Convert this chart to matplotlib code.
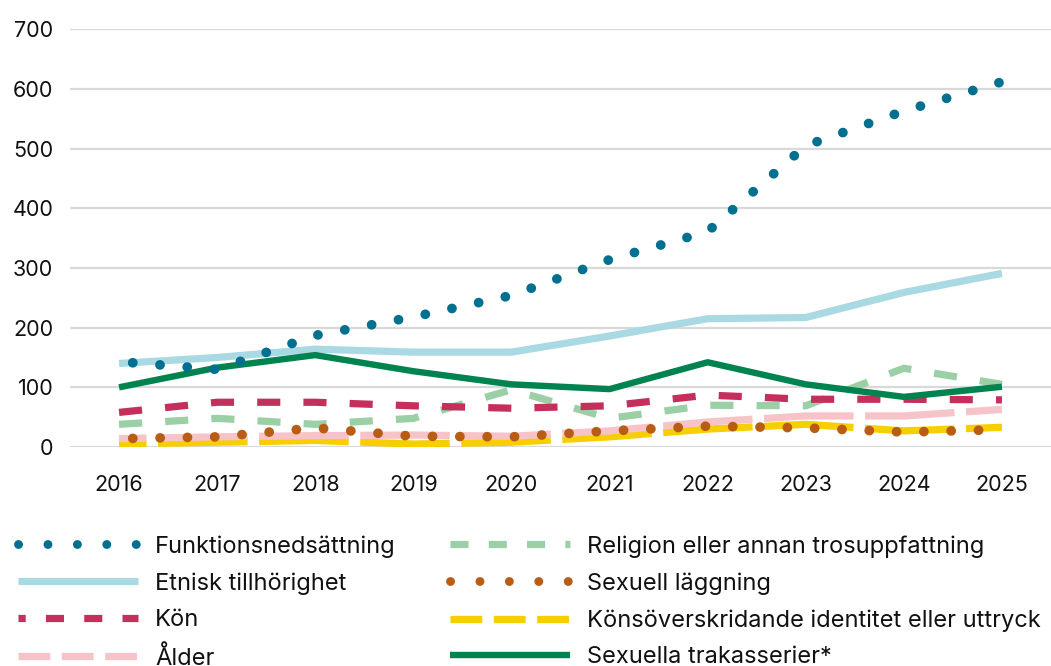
import matplotlib.pyplot as plt
from matplotlib.lines import Line2D

# Data
years = [2016, 2017, 2018, 2019, 2020, 2021, 2022, 2023, 2024, 2025]
funktion = [143, 130, 187, 218, 254, 314, 361, 505, 563, 612]
etnisk = [140, 150, 164, 159, 159, 186, 215, 217, 259, 291]
kon = [58, 75, 75, 69, 65, 69, 87, 80, 80, 79]
alder = [14, 17, 19, 20, 18, 27, 42, 52, 52, 63]
religion = [38, 48, 38, 48, 96, 48, 70, 69, 132, 105]
sexuell = [14, 17, 32, 18, 17, 27, 35, 32, 25, 29]
konsov = [5, 8, 11, 5, 8, 17, 30, 38, 27, 33]
trakasserier = [100, 133, 154, 127, 105, 97, 142, 105, 84, 101]

labels = ['Funktionsnedsättning', 'Etnisk tillhörighet', 'Kön', 'Ålder',
          'Religion eller annan trosuppfattning', 'Sexuell läggning',
          'Könsöverskridande identitet eller uttryck', 'Sexuella trakasserier*']

c_funk = '#006F90'
c_etn = '#A9D9E3'
c_kon = '#C42F5B'
c_ald = '#F6C3C8'
c_rel = '#9BCFA6'
c_sex = '#B95C14'
c_kons = '#F7CE00'
c_trak = '#00834F'

plt.rcParams['font.family'] = ['Inter', 'DejaVu Sans']

fig = plt.figure(figsize=(10.51, 6.66), dpi=100)
ax = fig.add_axes([70 / 1051, 1 - 447 / 666, 981 / 1051, (447 - 29.3) / 666])

# lines (drawing order matters for the overlaps)
ax.plot(years, etnisk, color=c_etn, lw=5.2, solid_capstyle='butt', zorder=3)
ax.plot(years, konsov, color=c_kons, lw=5.2, ls=(8.6, (12.4, 1.6)), dash_capstyle='butt', zorder=4)
ax.plot(years, alder, color=c_ald, lw=5.2, ls=(8.6, (12.4, 1.6)), dash_capstyle='butt', zorder=5)
ax.plot(years, religion, color=c_rel, lw=5.2, ls=(0, (3.2, 3.2)), dash_capstyle='butt', zorder=6)
ax.plot(years, kon, color=c_kon, lw=5.2, ls=(0, (3.2, 3.2)), dash_capstyle='butt', zorder=7)
ax.plot(years, trakasserier, color=c_trak, lw=4.6, solid_capstyle='butt', zorder=8)
ax.plot(years, funktion, color=c_funk, lw=7.0, ls=(1.4, (0.01, 2.8)), dash_capstyle='round', zorder=9)
ax.plot(years, sexuell, color=c_sex, lw=7.0, ls=(1.4, (0.01, 2.8)), dash_capstyle='round', zorder=10)

ax.set_xlim(2015.5, 2025.5)
ax.set_ylim(0, 700)
ax.set_xticks(years)
ax.set_yticks(range(0, 701, 100))
ax.grid(axis='y', color='#D9D9D9', lw=1.6)
ax.set_axisbelow(True)
for s in ax.spines.values():
    s.set_visible(False)
ax.tick_params(axis='both', length=0, labelsize=15.5, colors='#111111')
ax.tick_params(axis='y', pad=12)
ax.tick_params(axis='x', pad=20)

# legend handles (patterns a bit shorter than in the plot, as in the original)
h = [
    Line2D([], [], color=c_funk, lw=6.4, ls=(0, (0.01, 3.3)), dash_capstyle='round'),
    Line2D([], [], color=c_etn, lw=5.2, solid_capstyle='butt'),
    Line2D([], [], color=c_kon, lw=5.2, ls=(1.5, (2.5, 2.8)), dash_capstyle='butt'),
    Line2D([], [], color=c_ald, lw=5.2, ls=(0, (4.4, 1.6)), dash_capstyle='butt'),
    Line2D([], [], color=c_rel, lw=5.2, ls=(0, (2.5, 2.8)), dash_capstyle='butt'),
    Line2D([], [], color=c_sex, lw=6.4, ls=(0, (0.01, 3.3)), dash_capstyle='round'),
    Line2D([], [], color=c_kons, lw=5.2, ls=(0, (4.4, 1.6)), dash_capstyle='butt'),
    Line2D([], [], color=c_trak, lw=4.6, solid_capstyle='butt'),
]

fs = 17
fpx = fs * 100 / 72
hl = 120 / fpx
tp = 17 / fpx
leg1 = fig.legend(h[:4], labels[:4], loc='upper left', bbox_to_anchor=(18 / 1051, 1 - 535 / 666),
                  frameon=False, fontsize=fs, handlelength=hl, handletextpad=tp,
                  labelspacing=0.62, borderpad=0, borderaxespad=0)
leg2 = fig.legend(h[4:], labels[4:], loc='upper left', bbox_to_anchor=(450 / 1051, 1 - 535 / 666),
                  frameon=False, fontsize=fs, handlelength=hl, handletextpad=tp,
                  labelspacing=0.62, borderpad=0, borderaxespad=0)
for leg in (leg1, leg2):
    for t in leg.get_texts():
        t.set_color('#111111')

fig.savefig('out.png', dpi=100)
